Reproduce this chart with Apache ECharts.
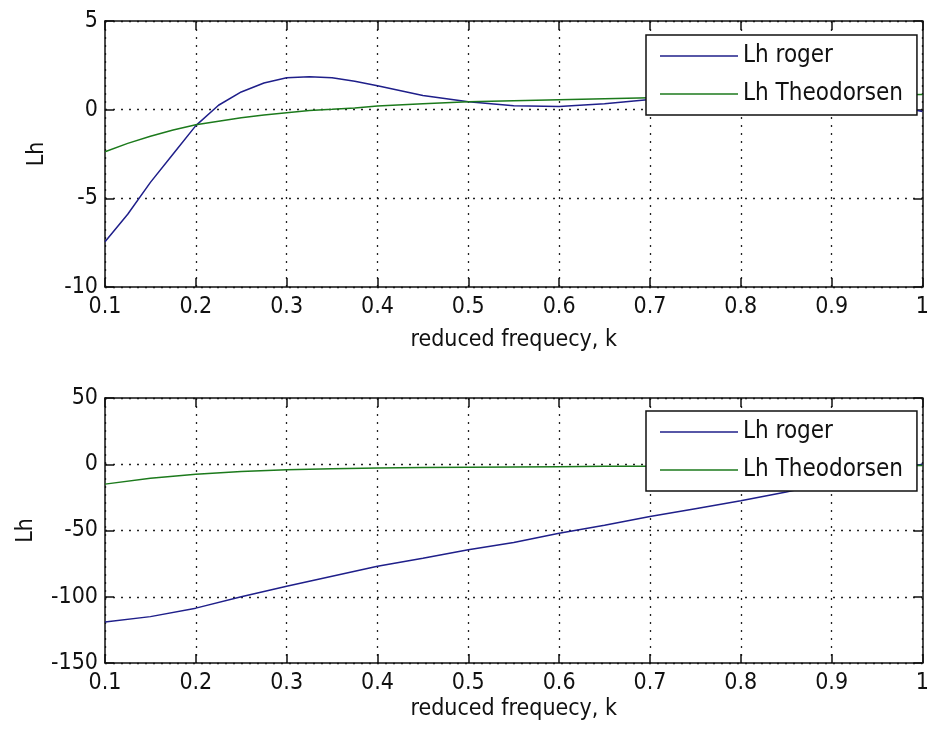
<!DOCTYPE html>
<html>
<head>
<meta charset="utf-8">
<title>Lh vs reduced frequency</title>
<script src="https://cdn.jsdelivr.net/npm/echarts@6/dist/echarts.min.js"></script>
<style>
  html, body { margin: 0; padding: 0; background: #fff; }
  #chart { width: 932px; height: 733px; }
</style>
</head>
<body>
<div id="chart"></div>
<script>
// Upper panel: reduced frequency samples and Lh curves
const kTop = [0.1, 0.125, 0.15, 0.175, 0.2, 0.225, 0.25, 0.275, 0.3, 0.325, 0.35, 0.375, 0.4,
              0.45, 0.5, 0.55, 0.6, 0.65, 0.7, 0.75, 0.8, 0.85, 0.9, 0.95, 1.0];
const rogerTop = [-7.45, -5.9, -4.1, -2.5, -0.9, 0.25, 1.0, 1.5, 1.8, 1.85, 1.8, 1.6, 1.35,
                  0.8, 0.45, 0.22, 0.18, 0.33, 0.58, 0.65, 0.7, 0.7, 0.65, 0.4, -0.1];
const theoTop = [-2.37, -1.9, -1.5, -1.15, -0.85, -0.65, -0.45, -0.3, -0.17, -0.05, 0.02, 0.1, 0.2,
                 0.33, 0.45, 0.5, 0.56, 0.62, 0.67, 0.71, 0.75, 0.78, 0.81, 0.83, 0.85];

// Lower panel
const kBottom = [0.1, 0.15, 0.2, 0.25, 0.3, 0.35, 0.4, 0.45, 0.5, 0.55, 0.6, 0.65, 0.7,
                 0.75, 0.8, 0.85, 0.9, 0.95, 1.0];
const rogerBottom = [-119, -115, -108.6, -100, -92, -84.5, -77, -71, -64.5, -59, -52, -46, -39.5,
                     -33.5, -27.5, -21, -13.5, -6.5, 0];
const theoBottom = [-15, -10.5, -7.5, -5.5, -4.2, -3.4, -2.9, -2.5, -2.2, -2.0, -1.8, -1.6, -1.5,
                    -1.4, -1.3, -1.2, -1.1, -1.05, -1.0];

// Axis settings
const kRange = { min: 0.1, max: 1, interval: 0.1 };
const lhTopRange = { min: -10, max: 5, interval: 5 };
const lhBottomRange = { min: -150, max: 50, interval: 50 };
const seriesNames = ['Lh roger', 'Lh Theodorsen'];
const xName = 'reduced frequecy, k';
const yName = 'Lh';

const FONT = "'Liberation Sans Narrow', 'DejaVu Sans Condensed', 'Liberation Sans', sans-serif";
const INK = '#111';
const BLUE = '#1f1f8a';
const GREEN = '#1c7a1c';

const pairs = (xs, ys) => xs.map((x, i) => [x, ys[i]]);

const frameLine = { show: true, onZero: false, lineStyle: { color: INK, width: 1.5 } };
const innerTick = { show: true, inside: true, length: 9, lineStyle: { color: INK, width: 1.5 } };
const dottedGrid = { show: true, lineStyle: { color: '#222', width: 1.3, type: [2, 6] } };

function mainX(gridIndex, nameGap) {
  return {
    type: 'value', gridIndex, position: 'bottom',
    min: kRange.min, max: kRange.max, interval: kRange.interval,
    name: xName, nameLocation: 'middle', nameGap,
    nameTextStyle: { fontFamily: FONT, fontSize: 23, color: INK },
    axisLine: frameLine, axisTick: innerTick,
    axisLabel: { fontFamily: FONT, fontSize: 23, color: INK, margin: 9,
                 formatter: v => String(Math.round(v * 10) / 10) },
    splitLine: dottedGrid
  };
}
function frameX(gridIndex) {
  return {
    type: 'value', gridIndex, position: 'top',
    min: kRange.min, max: kRange.max, interval: kRange.interval,
    axisLine: frameLine, axisTick: innerTick,
    axisLabel: { show: false }, splitLine: { show: false }
  };
}
function mainY(gridIndex, range, nameGap) {
  return {
    type: 'value', gridIndex, position: 'left',
    min: range.min, max: range.max, interval: range.interval,
    name: yName, nameLocation: 'middle', nameGap,
    nameTextStyle: { fontFamily: FONT, fontSize: 23, color: INK },
    axisLine: frameLine, axisTick: innerTick,
    axisLabel: { fontFamily: FONT, fontSize: 23, color: INK, margin: 7 },
    splitLine: dottedGrid
  };
}
function frameY(gridIndex, range) {
  return {
    type: 'value', gridIndex, position: 'right',
    min: range.min, max: range.max, interval: range.interval,
    axisLine: frameLine, axisTick: innerTick,
    axisLabel: { show: false }, splitLine: { show: false }
  };
}
function legendAt(top) {
  return {
    orient: 'vertical', left: 646, top,
    data: seriesNames.map(name => ({ name, icon: 'rect' })),
    backgroundColor: '#fff',
    borderColor: INK, borderWidth: 1.5,
    padding: [8, 14, 8, 14],
    itemGap: 12, itemWidth: 78, itemHeight: 1.5,
    textStyle: { fontFamily: FONT, fontSize: 24, color: INK, lineHeight: 26 },
    selectedMode: false
  };
}
function line(name, data, color, xi, yi) {
  return {
    name, type: 'line', data, xAxisIndex: xi, yAxisIndex: yi,
    symbol: 'none', smooth: false, animation: false,
    lineStyle: { color, width: 1.5 }, itemStyle: { color }
  };
}

const chart = echarts.init(document.getElementById('chart'), null, { renderer: 'canvas' });
chart.setOption({
  backgroundColor: '#fff',
  animation: false,
  grid: [
    { left: 105, top: 21, width: 821, height: 266 },
    { left: 105, top: 398, width: 821, height: 265 }
  ],
  xAxis: [mainX(0, 42), frameX(0), mainX(1, 35), frameX(1)],
  yAxis: [mainY(0, lhTopRange, 56), frameY(0, lhTopRange),
          mainY(1, lhBottomRange, 67), frameY(1, lhBottomRange)],
  legend: [legendAt(35), legendAt(411)],
  series: [
    line(seriesNames[0], pairs(kTop, rogerTop), BLUE, 0, 0),
    line(seriesNames[1], pairs(kTop, theoTop), GREEN, 0, 0),
    line(seriesNames[0], pairs(kBottom, rogerBottom), BLUE, 2, 2),
    line(seriesNames[1], pairs(kBottom, theoBottom), GREEN, 2, 2)
  ]
});
</script>
</body>
</html>
